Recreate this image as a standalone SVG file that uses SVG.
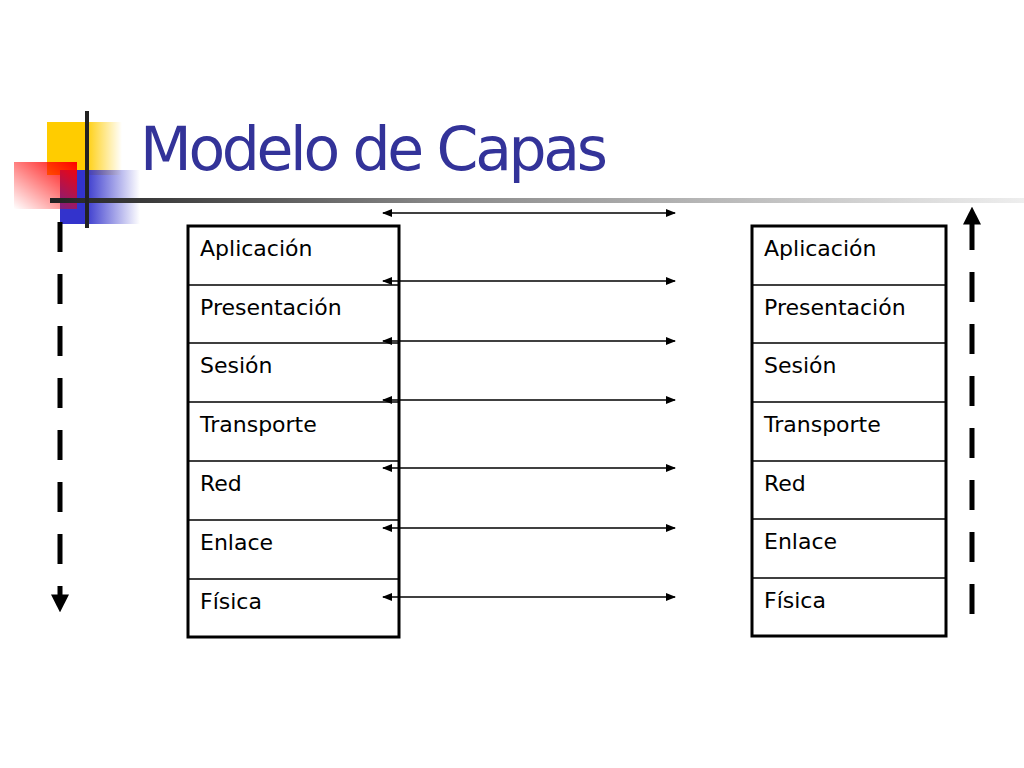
<svg xmlns="http://www.w3.org/2000/svg" width="1024" height="768" viewBox="0 0 1024 768">
<defs>
<linearGradient id="gy" x1="0" x2="1" y1="0" y2="0"><stop offset="0.5" stop-color="#ffcc00"/><stop offset="1" stop-color="#ffcc00" stop-opacity="0"/></linearGradient>
<linearGradient id="gr" x1="1" x2="0" y1="0" y2="1"><stop offset="0" stop-color="#ff0000"/><stop offset="1" stop-color="#ff0000" stop-opacity="0"/></linearGradient>
<linearGradient id="gb" x1="0" x2="1" y1="0" y2="0"><stop offset="0.3" stop-color="#3333cc"/><stop offset="1" stop-color="#3333cc" stop-opacity="0"/></linearGradient>
<linearGradient id="gl" x1="0" x2="1" y1="0" y2="0"><stop offset="0" stop-color="#222"/><stop offset="0.4" stop-color="#888"/><stop offset="1" stop-color="#eee"/></linearGradient>
<marker id="a" viewBox="0 0 10 10" refX="9" refY="5" markerWidth="10" markerHeight="10" markerUnits="userSpaceOnUse" orient="auto-start-reverse"><path d="M0,1L10,5L0,9z" fill="#000"/></marker>
<marker id="b" viewBox="0 0 10 10" refX="2" refY="5" markerWidth="18" markerHeight="18" markerUnits="userSpaceOnUse" orient="auto"><path d="M0,0L10,5L0,10z" fill="#000"/></marker>
<style>
.t{font-family:Tahoma,"DejaVu Sans",sans-serif;font-size:22px;fill:#000}
.box{fill:#fff;stroke:#000;stroke-width:3}
.ln{stroke:#000;stroke-width:1.5}
.d{stroke:#000;stroke-width:5;stroke-dasharray:30 22;fill:none}
</style>
</defs>
<rect width="1024" height="768" fill="#fff"/>
<g id="logo">
<rect x="47" y="122" width="75" height="53" fill="url(#gy)"/>
<rect x="60" y="170" width="80" height="54" fill="url(#gb)"/>
<rect x="14" y="162" width="63" height="47" fill="url(#gr)"/>
<rect x="50" y="198" width="974" height="5" fill="url(#gl)"/>
<rect x="85" y="111" width="4" height="117" fill="#222"/>
</g>
<text x="140" y="170" font-family="Tahoma,'DejaVu Sans',sans-serif" font-size="60" fill="#333399" textLength="468">Modelo de Capas</text>
<g id="left-stack">
<rect class="box" x="188" y="226" width="211" height="411"/>
<path class="ln" d="M188 285H399M188 343H399M188 402H399M188 461H399M188 520H399M188 579H399"/>
<text class="t" x="200" y="256">Aplicación</text>
<text class="t" x="200" y="315">Presentación</text>
<text class="t" x="200" y="373">Sesión</text>
<text class="t" x="200" y="432">Transporte</text>
<text class="t" x="200" y="491">Red</text>
<text class="t" x="200" y="550">Enlace</text>
<text class="t" x="200" y="609">Física</text>
</g>
<g id="right-stack">
<rect class="box" x="752" y="226" width="194" height="410"/>
<path class="ln" d="M752 285H946M752 343H946M752 402H946M752 461H946M752 519H946M752 578H946"/>
<text class="t" x="764" y="256">Aplicación</text>
<text class="t" x="764" y="315">Presentación</text>
<text class="t" x="764" y="373">Sesión</text>
<text class="t" x="764" y="432">Transporte</text>
<text class="t" x="764" y="491">Red</text>
<text class="t" x="764" y="549">Enlace</text>
<text class="t" x="764" y="608">Física</text>
</g>
<g id="connectors" class="ln" marker-start="url(#a)" marker-end="url(#a)">
<line x1="383" y1="213" x2="675" y2="213"/>
<line x1="383" y1="281" x2="675" y2="281"/>
<line x1="383" y1="341" x2="675" y2="341"/>
<line x1="383" y1="400" x2="675" y2="400"/>
<line x1="383" y1="468" x2="675" y2="468"/>
<line x1="383" y1="528" x2="675" y2="528"/>
<line x1="383" y1="597" x2="675" y2="597"/>
<path class="d" d="M60 222V598" marker-start="none" marker-end="url(#b)"/>
<path class="d" d="M972 614V221" marker-start="none" marker-end="url(#b)"/>
</g>
</svg>
